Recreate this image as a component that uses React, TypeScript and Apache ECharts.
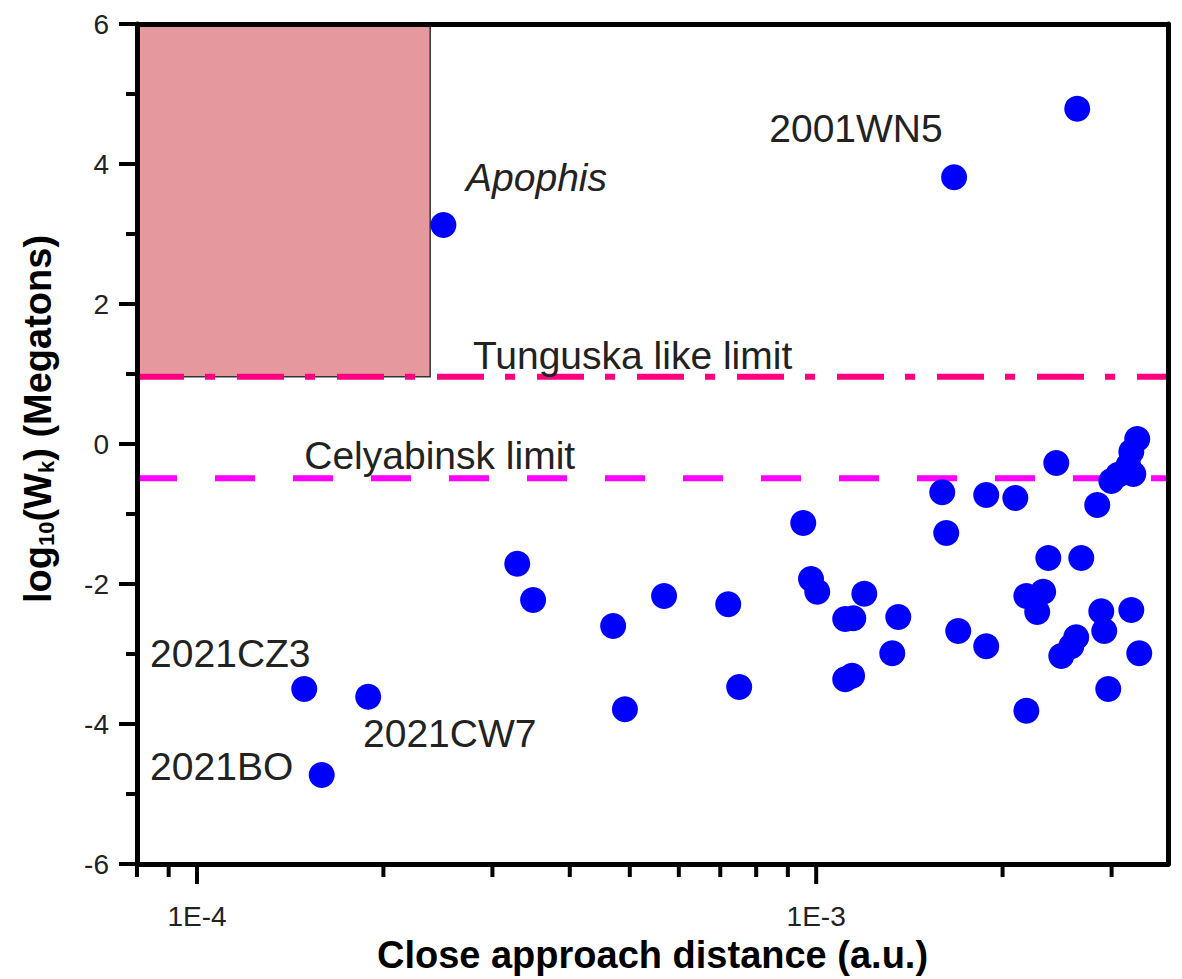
import React, { useEffect, useRef } from "react";
import * as echarts from "echarts";

// ---- axis ranges / ticks ----
const X_MIN = 8e-5;
const X_MAX = 3.7e-3;
const Y_MIN = -6;
const Y_MAX = 6;
const Y_STEP = 2;
const xMajorTicks = [1e-4, 1e-3];
const xMinorTicks = [8e-5, 9e-5, 2e-4, 3e-4, 4e-4, 5e-4, 6e-4, 7e-4, 8e-4, 9e-4, 2e-3, 3e-3];

// ---- data: close approach distance (a.u.) and log10(Wk) (Megatons) ----
const distances = [
  2.5e-4, 1.67e-3, 2.64e-3, 1.49e-4, 1.89e-4, 1.59e-4, 3.29e-4, 3.49e-4, 4.7e-4, 4.91e-4,
  5.68e-4, 7.21e-4, 7.51e-4, 9.53e-4, 9.81e-4, 1.004e-3, 1.114e-3, 1.148e-3, 1.196e-3, 1.114e-3,
  1.143e-3, 1.357e-3, 1.327e-3, 1.598e-3, 1.622e-3, 1.696e-3, 1.882e-3, 1.882e-3, 2.097e-3, 2.185e-3,
  2.185e-3, 2.326e-3, 2.275e-3, 2.371e-3, 2.442e-3, 2.488e-3, 2.582e-3, 2.63e-3, 2.68e-3, 2.844e-3,
  2.887e-3, 2.919e-3, 2.963e-3, 2.997e-3, 3.075e-3, 3.192e-3, 3.228e-3, 3.252e-3, 3.3e-3, 3.228e-3,
  3.325e-3,
];
const energies = [
  3.13, 3.81, 4.79, -3.5, -3.61, -4.73, -1.71, -2.23, -2.6, -3.79,
  -2.17, -2.29, -3.47, -1.13, -1.93, -2.11, -2.5, -2.49, -2.14, -3.36,
  -3.31, -2.47, -2.99, -0.69, -1.27, -2.67, -0.73, -2.89, -0.77, -3.81,
  -2.17, -2.11, -2.4, -1.63, -0.27, -3.03, -2.89, -2.76, -1.63, -0.87,
  -2.39, -2.67, -3.5, -0.53, -0.44, -0.31, -0.11, -0.43, 0.07, -2.37,
  -2.99,
];

// ---- reference limits ----
const dangerZone = [8e-5, 2.38e-4, 0.96, 6];
const tunguskaLimit = 0.96;
const chelyabinskLimit = -0.49;

// ---- annotations (left edge, vertical middle, in data units) ----
const annotationTexts = ["Apophis", "2001WN5", "Tunguska like limit", "Celyabinsk limit", "2021CZ3", "2021CW7", "2021BO"];
const annotationX = [2.72e-4, 8.4e-4, 2.79e-4, 1.49e-4, 8.4e-5, 1.854e-4, 8.4e-5];
const annotationY = [3.81, 4.51, 1.27, -0.16, -2.99, -4.14, -4.61];
const annotationItalic = [true, false, false, false, false, false, false];

const FONT = "'Liberation Sans', Arial, Helvetica, sans-serif";

export default function App() {
  const ref = useRef<HTMLDivElement>(null);

  useEffect(() => {
    if (!ref.current) return;
    const chart = echarts.init(ref.current, undefined, { renderer: "svg" });

    const points = distances.map((d, i) => [d, energies[i]]);
    const tickData = [
      ...xMajorTicks.map((v) => [v, Y_MIN, 1]),
      ...xMinorTicks.map((v) => [v, Y_MIN, 0]),
    ];
    const annData = annotationTexts.map((_, i) => [annotationX[i], annotationY[i], i]);

    const frameAxis = {
      show: true,
      min: 0,
      max: 1,
      z: 10,
      axisLine: { show: true, onZero: false, lineStyle: { color: "#000", width: 5 } },
      axisTick: { show: false },
      axisLabel: { show: false },
      splitLine: { show: false },
    };

    chart.setOption({
      animation: false,
      backgroundColor: "#fff",
      grid: { left: 137, right: 14, top: 24, bottom: 114, containLabel: false },
      xAxis: [
        {
          type: "log",
          logBase: 10,
          min: X_MIN,
          max: X_MAX,
          z: 10,
          position: "bottom",
          name: "Close approach distance (a.u.)",
          nameLocation: "middle",
          nameGap: 72,
          nameTextStyle: { fontSize: 38, fontWeight: "bold", color: "#000", fontFamily: FONT },
          axisLine: { show: true, onZero: false, lineStyle: { color: "#000", width: 5 } },
          axisTick: { show: false },
          minorTick: { show: false },
          splitLine: { show: false },
          axisLabel: {
            fontSize: 28,
            color: "#222",
            fontFamily: FONT,
            margin: 38,
            showMinLabel: false,
            showMaxLabel: false,
            formatter: (v: number) => {
              const e = Math.log10(v);
              if (Math.abs(e - Math.round(e)) > 1e-6) return "";
              return "1E" + Math.round(e);
            },
          },
        },
        { ...frameAxis, type: "value", position: "top" },
      ],
      yAxis: [
        {
          type: "value",
          min: Y_MIN,
          max: Y_MAX,
          interval: Y_STEP,
          z: 10,
          axisLine: { show: true, onZero: false, lineStyle: { color: "#000", width: 5 } },
          axisTick: { show: true, length: 18, lineStyle: { color: "#000", width: 4 } },
          minorTick: { show: true, splitNumber: 2, length: 11, lineStyle: { color: "#000", width: 4 } },
          splitLine: { show: false },
          minorSplitLine: { show: false },
          axisLabel: { fontSize: 28, color: "#222", fontFamily: FONT, margin: 28 },
        },
        { ...frameAxis, type: "value", position: "right" },
      ],
      graphic: [
        {
          type: "text",
          x: 37,
          y: 419,
          rotation: Math.PI / 2,
          style: {
            text: "{b|log}{s|10}{b|(W}{s|k}{b|) (Megatons)}",
            align: "center",
            verticalAlign: "middle",
            rich: {
              b: { fontSize: 38, fontWeight: "bold", fontFamily: FONT, fill: "#000", lineHeight: 40, verticalAlign: "bottom" },
              s: { fontSize: 22, fontWeight: "bold", fontFamily: FONT, fill: "#000", lineHeight: 10, verticalAlign: "bottom" },
            },
          },
        },
      ],
      series: [
        {
          type: "custom",
          name: "zone",
          z: 1,
          encode: { x: [0, 1], y: [2, 3] },
          data: [dangerZone],
          renderItem: (_p: any, api: any) => {
            const a = api.coord([api.value(0), api.value(3)]);
            const b = api.coord([api.value(1), api.value(2)]);
            return {
              type: "rect",
              shape: { x: a[0], y: a[1], width: b[0] - a[0], height: b[1] - a[1] },
              style: { fill: "#e6989f", stroke: "#333", lineWidth: 1.5 },
            };
          },
        },
        {
          type: "line",
          name: "Tunguska",
          z: 3,
          showSymbol: false,
          symbol: "none",
          data: [
            [X_MIN, tunguskaLimit],
            [X_MAX, tunguskaLimit],
          ],
          lineStyle: { color: "#ff0080", width: 6, type: [47, 21, 10, 22], cap: "butt" },
        },
        {
          type: "line",
          name: "Chelyabinsk",
          z: 3,
          showSymbol: false,
          symbol: "none",
          data: [
            [X_MIN, chelyabinskLimit],
            [X_MAX, chelyabinskLimit],
          ],
          lineStyle: { color: "#ff00ff", width: 6, type: [40, 38], cap: "butt" },
        },
        {
          type: "scatter",
          name: "NEA",
          z: 4,
          symbol: "circle",
          symbolSize: 26,
          itemStyle: { color: "#0000ff", opacity: 1 },
          data: points,
        },
        {
          type: "custom",
          name: "xticks",
          z: 11,
          clip: false,
          data: tickData,
          renderItem: (_p: any, api: any) => {
            const p = api.coord([api.value(0), api.value(1)]);
            const len = api.value(2) ? 20 : 13;
            return {
              type: "line",
              shape: { x1: p[0], y1: p[1], x2: p[0], y2: p[1] + len },
              style: { stroke: "#000", lineWidth: 4 },
            };
          },
        },
        {
          type: "custom",
          name: "annotations",
          z: 5,
          clip: false,
          data: annData,
          renderItem: (_p: any, api: any) => {
            const p = api.coord([api.value(0), api.value(1)]);
            const i = api.value(2);
            return {
              type: "text",
              x: p[0],
              y: p[1],
              style: {
                text: annotationTexts[i],
                fill: "#222",
                fontSize: 39,
                fontFamily: FONT,
                fontStyle: annotationItalic[i] ? "italic" : "normal",
                align: "left",
                verticalAlign: "middle",
              },
            };
          },
        },
      ],
    });

    return () => chart.dispose();
  }, []);

  return (
    <div
      ref={ref}
      style={{ position: "fixed", left: 0, top: 0, width: 1182, height: 979, background: "#fff" }}
    />
  );
}
